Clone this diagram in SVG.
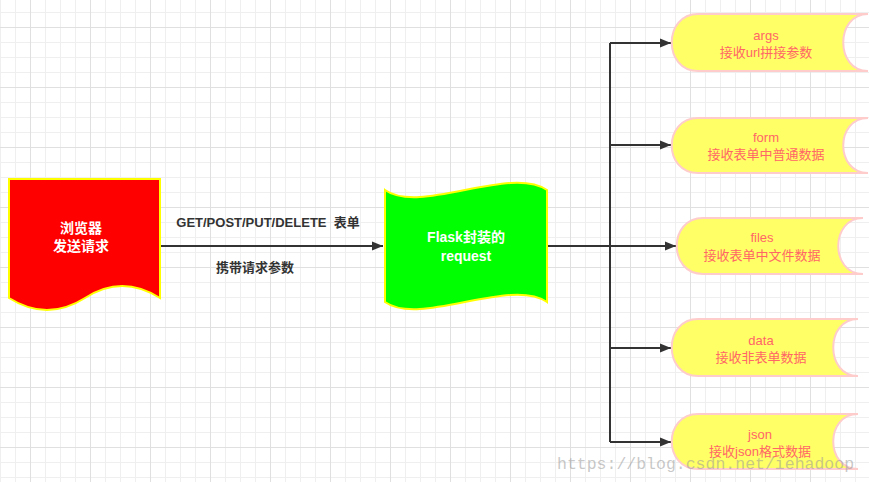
<svg xmlns="http://www.w3.org/2000/svg" width="869" height="482" viewBox="0 0 869 482">
<defs>
<pattern id="minor" patternUnits="userSpaceOnUse" x="0" y="12" width="15" height="15">
<path d="M0,0.5H15M0.5,0V15" stroke="#efefef" stroke-width="1" fill="none"/>
</pattern>
<pattern id="major" patternUnits="userSpaceOnUse" x="30" y="27" width="60" height="60">
<path d="M0,0.5H60M0.5,0V60" stroke="#e0e0e0" stroke-width="1" fill="none"/>
</pattern>
<marker id="arr" markerWidth="12" markerHeight="10" refX="11" refY="5" orient="auto" markerUnits="userSpaceOnUse">
<path d="M0,0.5L11,5L0,9.5Z" fill="#333"/>
</marker>
</defs>
<style>
.conn{stroke:#333;stroke-width:2;fill:none}
.lbl{font-family:"Liberation Sans","Noto Sans CJK SC",sans-serif;font-size:13px;fill:#333;text-anchor:middle}
.white{font-family:"Liberation Sans","Noto Sans CJK SC",sans-serif;font-size:14px;font-weight:bold;fill:#fff;text-anchor:middle}
.store{fill:#ffff66;stroke:#ffcccc;stroke-width:2}
.st{font-family:"Liberation Sans","Noto Sans CJK SC",sans-serif;font-size:13px;fill:#ff6666;text-anchor:middle}
</style>
<rect width="869" height="482" fill="#fff"/>
<rect width="869" height="482" fill="url(#minor)"/>
<rect width="869" height="482" fill="url(#major)"/>

<g id="connectors">
<path class="conn" d="M161,246H383" marker-end="url(#arr)"/>
<path class="conn" d="M548,246H610"/>
<path class="conn" d="M610,43V442"/>
<path class="conn" d="M610,43H671" marker-end="url(#arr)"/>
<path class="conn" d="M610,145H671" marker-end="url(#arr)"/>
<path class="conn" d="M610,246H676" marker-end="url(#arr)"/>
<path class="conn" d="M610,348H671" marker-end="url(#arr)"/>
<path class="conn" d="M610,442H671" marker-end="url(#arr)"/>
<text class="lbl" x="268" y="226.5" font-weight="bold" xml:space="preserve">GET/POST/PUT/DELETE  表单</text>
<text class="lbl" x="255" y="271.5" font-weight="bold">携带请求参数</text>
</g>

<g id="browser">
<path d="M9,179H160V298Q122,274 85,298Q47,322 9,298Z" fill="#ff0000" stroke="#ffff00" stroke-width="2"/>
<text class="white" x="81" y="233">浏览器</text>
<text class="white" x="81" y="251">发送请求</text>
</g>

<g id="request">
<path d="M385,190C420,215 510,165 547,190V302C510,277 420,327 385,302Z" fill="#00ff00" stroke="#ffff00" stroke-width="2"/>
<text class="white" x="466" y="242">Flask封装的</text>
<text class="white" x="466" y="261">request</text>
</g>

<g id="args">
<path class="store" d="M698,14H868C835,14 835,71 868,71H698C663,71 663,14 698,14Z"/>
<text class="st" x="766" y="40">args</text>
<text class="st" x="766" y="57">接收url拼接参数</text>
</g>

<g id="form">
<path class="store" d="M698,118H868C835,118 835,173 868,173H698C663,173 663,118 698,118Z"/>
<text class="st" x="766" y="142">form</text>
<text class="st" x="766" y="159">接收表单中普通数据</text>
</g>

<g id="files">
<path class="store" d="M703,218H863C830,218 830,274 863,274H703C668,274 668,218 703,218Z"/>
<text class="st" x="762" y="242">files</text>
<text class="st" x="762" y="260">接收表单中文件数据</text>
</g>

<g id="data">
<path class="store" d="M698,319H858C825,319 825,376 858,376H698C663,376 663,319 698,319Z"/>
<text class="st" x="761" y="345">data</text>
<text class="st" x="761" y="362">接收非表单数据</text>
</g>

<g id="json">
<path class="store" d="M698,414H858C825,414 825,469 858,469H698C663,469 663,414 698,414Z"/>
<text class="st" x="760" y="439">json</text>
<text class="st" x="760" y="456">接收json格式数据</text>
</g>

<text x="557" y="469" font-family="'Liberation Mono',monospace" font-size="16.5" fill="#999" fill-opacity="0.55">https://blog.csdn.net/iehadoop</text>
</svg>
